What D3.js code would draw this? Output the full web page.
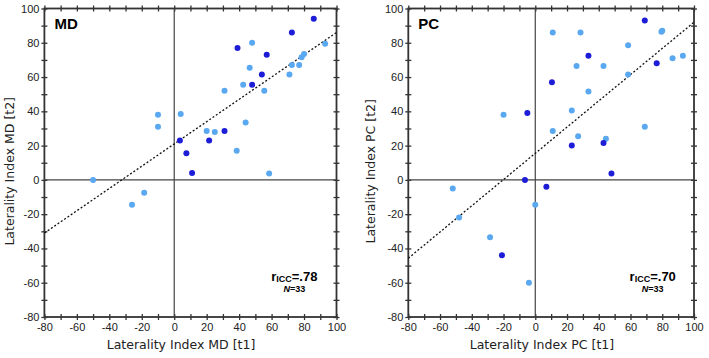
<!DOCTYPE html>
<html>
<head>
<meta charset="utf-8">
<script src="https://cdn.jsdelivr.net/npm/d3@7"></script>
<style>
  body { margin: 0; background: #fff; }
  svg { display: block; font-family: "DejaVu Sans", sans-serif; }
  .tick text { font-size: 11px; fill: #222; }
  .axis path, .axis line { stroke: #333; }
</style>
</head>
<body>
<div id="chart"></div>
<script>
// test-retest laterality indices, MD and PC, t1 vs t2

const tickLabels = [-80, -60, -40, -20, 0, 20, 40, 60, 80, 100];
const minorTicks = [-70, -50, -30, -10, 10, 30, 50, 70, 90];

// MD panel (group 1 = dark dots)
const mdT1 = [86, 72.5, 48, 39, 57, 93, 80, 78.5, 72.5, 77, 46.5, 54, 71, 42.5, 48, 31, 55.5,
  -10, 4, -10, 44, 20, 25, 31, 3.5, 21.5, 7.5, 38.5, 11, 58.5, -50, -18.5, -26];
const mdT2 = [94, 86, 80, 77, 73, 79.5, 73.5, 71.5, 67, 67, 65.5, 61.5, 61.5, 55.5, 55.5, 52, 52,
  38, 38.5, 31, 33.5, 28.5, 28, 28.5, 23, 23, 15.5, 17, 4, 3.7, 0, -7.5, -14.5];
const mdGroup = [1, 1, 0, 1, 1, 0, 0, 0, 0, 0, 0, 1, 0, 0, 1, 0, 0,
  0, 0, 0, 0, 0, 0, 1, 1, 1, 1, 0, 1, 0, 0, 0, 0];

// PC panel
const pcT1 = [69, 11, 28.5, 79.5, 58.5, 33.5, 76.5, 86.5, 93, 26, 43, 58.5, 10.5, 33.5, 23, -20, -5,
  69, 11, 27, 44.5, 23, 43, 48, -6.5, 7, -52, 0, -48, -28.5, -21, -4, 80];
const pcT2 = [93, 86, 86, 86.5, 78.5, 72.5, 68, 71, 72.5, 66.5, 66.5, 61.5, 57, 51.5, 40.5, 38, 39,
  31, 28.5, 25.5, 24, 20, 21.5, 3.7, 0, -4, -5, -14.5, -22, -33.5, -44, -60, 87];
const pcGroup = [1, 0, 0, 0, 0, 1, 1, 0, 0, 0, 0, 0, 1, 0, 0, 0, 1,
  0, 0, 0, 0, 1, 1, 1, 1, 1, 0, 0, 0, 0, 1, 0, 0];

// fitted lines: [intercept, slope]
const mdFit = [21, 0.65];
const pcFit = [15.5, 0.765];

const W = 709, H = 358;
const dotColors = ["#5aa8f0", "#1d1dd8"];

const svg = d3.select("#chart").append("svg")
  .attr("width", W)
  .attr("height", H);

function drawPanel(opt) {
  const x = d3.scaleLinear().domain([-80, 100]).range([opt.left, opt.right]);
  const y = d3.scaleLinear().domain([-80, 100]).range([317, 8.5]);
  const g = svg.append("g");
  const allTicks = tickLabels.concat(minorTicks);

  // crossing ticks: outward + inward copies
  const hsides = [
    [d3.axisBottom, y(-80), true],
    [d3.axisTop, y(-80), false],
    [d3.axisTop, y(100), false],
    [d3.axisBottom, y(100), false]
  ];
  hsides.forEach(([fn, py, labels]) => {
    g.append("g").attr("class", "axis").attr("transform", "translate(0," + py + ")")
      .call(fn(x).tickValues(allTicks).tickSize(3).tickSizeOuter(0)
        .tickFormat(d => (labels && tickLabels.includes(d)) ? String(d) : ""))
      .call(a => a.select(".domain").remove())
      .call(a => a.selectAll("line").attr("stroke-width", 1.3));
  });
  const vsides = [
    [d3.axisLeft, x(-80), true],
    [d3.axisRight, x(-80), false],
    [d3.axisRight, x(100), false],
    [d3.axisLeft, x(100), false]
  ];
  vsides.forEach(([fn, px, labels]) => {
    g.append("g").attr("class", "axis").attr("transform", "translate(" + px + ",0)")
      .call(fn(y).tickValues(allTicks).tickSize(3).tickSizeOuter(0).tickPadding(2)
        .tickFormat(d => (labels && tickLabels.includes(d)) ? String(d) : ""))
      .call(a => a.select(".domain").remove())
      .call(a => a.selectAll("line").attr("stroke-width", 1.3));
  });

  // frame
  g.append("rect")
    .attr("x", x(-80)).attr("y", y(100))
    .attr("width", x(100) - x(-80)).attr("height", y(-80) - y(100))
    .attr("fill", "none").attr("stroke", "#333").attr("stroke-width", 1.8);

  // zero lines
  g.append("line").attr("x1", x(0)).attr("x2", x(0)).attr("y1", y(100)).attr("y2", y(-80))
    .attr("stroke", "#444").attr("stroke-width", 1.2);
  g.append("line").attr("x1", x(-80)).attr("x2", x(100)).attr("y1", y(0)).attr("y2", y(0))
    .attr("stroke", "#444").attr("stroke-width", 1.2);

  // regression line
  const [b0, b1] = opt.fit;
  g.append("line")
    .attr("x1", x(-80)).attr("y1", y(b0 + b1 * -80))
    .attr("x2", x(100)).attr("y2", y(b0 + b1 * 100))
    .attr("stroke", "#111").attr("stroke-width", 1.3).attr("stroke-dasharray", "2,2");

  // dots
  g.selectAll("circle").data(opt.t1.map((v, i) => ({ a: v, b: opt.t2[i], grp: opt.grp[i] })))
    .join("circle")
    .attr("cx", d => x(d.a))
    .attr("cy", d => y(d.b))
    .attr("r", 3)
    .attr("fill", d => dotColors[d.grp]);

  // panel title
  g.append("text")
    .attr("x", x(-80) + 10).attr("y", 29)
    .style("font-family", "Liberation Sans, Arial, sans-serif")
    .style("font-weight", "bold").style("font-size", "15px")
    .text(opt.title);

  // ICC annotation
  const cx = x(opt.annX);
  const t = g.append("text")
    .attr("x", cx).attr("y", 281).attr("text-anchor", "middle")
    .style("font-family", "Liberation Sans, Arial, sans-serif")
    .style("font-weight", "bold").style("font-size", "13px");
  t.append("tspan").text("r");
  t.append("tspan").style("font-size", "9px").attr("dy", 1).text("ICC");
  t.append("tspan").attr("dy", -1).text(opt.icc);

  const n = g.append("text")
    .attr("x", cx).attr("y", 292).attr("text-anchor", "middle")
    .style("font-family", "Liberation Sans, Arial, sans-serif")
    .style("font-weight", "bold").style("font-size", "9px");
  n.append("tspan").style("font-style", "italic").text("N");
  n.append("tspan").text("=33");

  // axis labels
  g.append("text")
    .attr("x", x(4.2)).attr("y", 349).attr("text-anchor", "middle")
    .style("font-size", "12.5px").attr("fill", "#222")
    .text(opt.xLabel);
  g.append("text")
    .attr("transform", "translate(" + (x(-80) - opt.yLabelGap) + "," + y(5) + ") rotate(-90)")
    .attr("text-anchor", "middle")
    .style("font-size", "12.5px").attr("fill", "#222")
    .text(opt.yLabel);
}

drawPanel({
  left: 44.4, right: 336.5, t1: mdT1, t2: mdT2, grp: mdGroup, fit: mdFit,
  title: "MD", icc: "=.78", annX: 74, yLabelGap: 30,
  xLabel: "Laterality Index MD [t1]", yLabel: "Laterality Index MD [t2]"
});
drawPanel({
  left: 408.3, right: 694, t1: pcT1, t2: pcT2, grp: pcGroup, fit: pcFit,
  title: "PC", icc: "=.70", annX: 74, yLabelGap: 33,
  xLabel: "Laterality Index PC [t1]", yLabel: "Laterality Index PC [t2]"
});
</script>
</body>
</html>
